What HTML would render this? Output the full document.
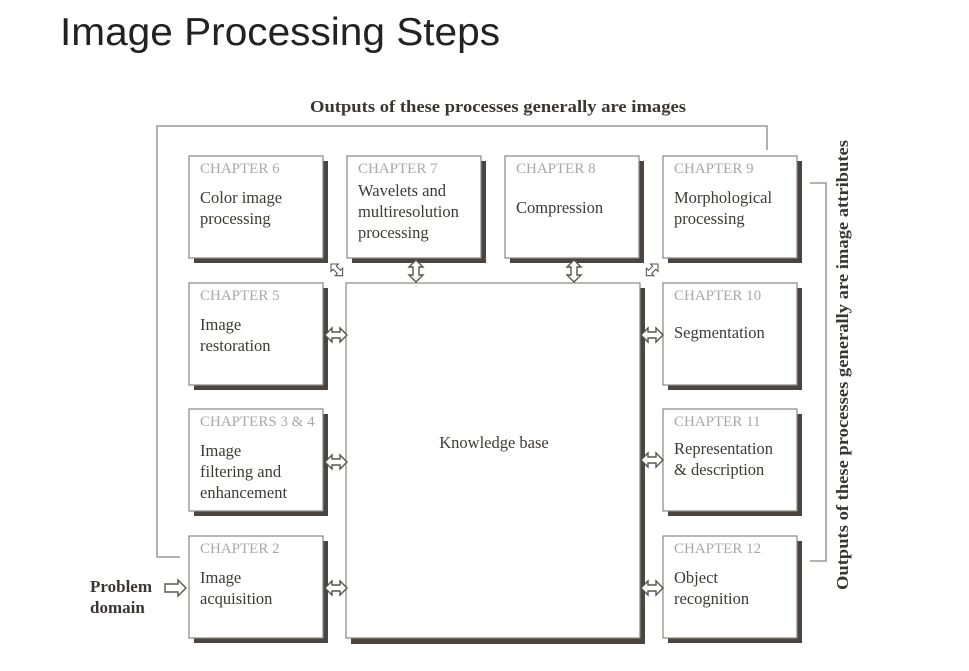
<!DOCTYPE html>
<html><head><meta charset="utf-8"><style>
html,body{margin:0;padding:0;background:#fff;}
svg{display:block;}
.t{font-family:"Liberation Serif",serif;}
.ch{fill:#a8a8a8;font-size:15px;}
.bd{fill:#3e3a36;font-size:16.5px;}
</style></head><body>
<svg width="969" height="671" viewBox="0 0 969 671" xmlns="http://www.w3.org/2000/svg">
<defs>
<polygon id="ha" points="0,0 7,-7 7,-3 15,-3 15,-7 22,0 15,7 15,3 7,3 7,7" fill="#fff" stroke="#5a5550" stroke-width="1.4"/>
</defs>
<text x="60" y="45" font-family="Liberation Sans, sans-serif" font-size="39" fill="#222" textLength="440" lengthAdjust="spacingAndGlyphs">Image Processing Steps</text>

<text class="t" x="498" y="112" font-size="17" font-weight="bold" fill="#3a3633" text-anchor="middle" textLength="376" lengthAdjust="spacingAndGlyphs">Outputs of these processes generally are images</text>
<text class="t" font-size="17" font-weight="bold" fill="#3a3633" text-anchor="middle" textLength="450" lengthAdjust="spacingAndGlyphs" transform="translate(848,365) rotate(-90)">Outputs of these processes generally are image attributes</text>

<g fill="none" stroke="#8a8580" stroke-width="1.3">
<polyline points="767,150 767,126 157,126 157,557 180,557"/>
<polyline points="810,183 826,183 826,561 810,561"/>
</g>

<g fill="#4a4540">
<rect x="194" y="161" width="134" height="102"/>
<rect x="352" y="161" width="134" height="102"/>
<rect x="510" y="161" width="134" height="102"/>
<rect x="668" y="161" width="134" height="102"/>
<rect x="194" y="288" width="134" height="102"/>
<rect x="194" y="414" width="134" height="102"/>
<rect x="194" y="541" width="134" height="102"/>
<rect x="668" y="288" width="134" height="102"/>
<rect x="668" y="414" width="134" height="102"/>
<rect x="668" y="541" width="134" height="102"/>
<rect x="351" y="288" width="294" height="356"/>
</g>
<g fill="#fff" stroke="#8a8580" stroke-width="1.2">
<rect x="189" y="156" width="134" height="102"/>
<rect x="347" y="156" width="134" height="102"/>
<rect x="505" y="156" width="134" height="102"/>
<rect x="663" y="156" width="134" height="102"/>
<rect x="189" y="283" width="134" height="102"/>
<rect x="189" y="409" width="134" height="102"/>
<rect x="189" y="536" width="134" height="102"/>
<rect x="663" y="283" width="134" height="102"/>
<rect x="663" y="409" width="134" height="102"/>
<rect x="663" y="536" width="134" height="102"/>
<rect x="346" y="283" width="294" height="355"/>
</g>

<g class="t">
<text class="ch" x="200" y="173">CHAPTER 6</text>
<text class="bd" x="200" y="203">Color image</text><text class="bd" x="200" y="224">processing</text>
<text class="ch" x="358" y="173">CHAPTER 7</text>
<text class="bd" x="358" y="196">Wavelets and</text><text class="bd" x="358" y="217">multiresolution</text><text class="bd" x="358" y="238">processing</text>
<text class="ch" x="516" y="173">CHAPTER 8</text>
<text class="bd" x="516" y="213">Compression</text>
<text class="ch" x="674" y="173">CHAPTER 9</text>
<text class="bd" x="674" y="203">Morphological</text><text class="bd" x="674" y="224">processing</text>
<text class="ch" x="200" y="300">CHAPTER 5</text>
<text class="bd" x="200" y="330">Image</text><text class="bd" x="200" y="351">restoration</text>
<text class="ch" x="200" y="426">CHAPTERS 3 &amp; 4</text>
<text class="bd" x="200" y="456">Image</text><text class="bd" x="200" y="477">filtering and</text><text class="bd" x="200" y="498">enhancement</text>
<text class="ch" x="200" y="553">CHAPTER 2</text>
<text class="bd" x="200" y="583">Image</text><text class="bd" x="200" y="604">acquisition</text>
<text class="ch" x="674" y="300">CHAPTER 10</text>
<text class="bd" x="674" y="338">Segmentation</text>
<text class="ch" x="674" y="426">CHAPTER 11</text>
<text class="bd" x="674" y="454">Representation</text><text class="bd" x="674" y="475">&amp; description</text>
<text class="ch" x="674" y="553">CHAPTER 12</text>
<text class="bd" x="674" y="583">Object</text><text class="bd" x="674" y="604">recognition</text>
<text class="bd" x="494" y="448" text-anchor="middle">Knowledge base</text>
<text x="90" y="592" font-size="17" font-weight="bold" fill="#3a3633">Problem</text>
<text x="90" y="613" font-size="17" font-weight="bold" fill="#3a3633">domain</text>
</g>

<polygon points="165,584 178,584 178,580 186,588 178,596 178,592 165,592" fill="#fff" stroke="#5a5550" stroke-width="1.4"/>

<use href="#ha" transform="translate(325,335)"/>
<use href="#ha" transform="translate(325,462)"/>
<use href="#ha" transform="translate(325,588)"/>
<use href="#ha" transform="translate(641,335)"/>
<use href="#ha" transform="translate(641,460)"/>
<use href="#ha" transform="translate(641,588)"/>
<use href="#ha" transform="translate(416,260) rotate(90)"/>
<use href="#ha" transform="translate(574,260) rotate(90)"/>
<use href="#ha" transform="translate(331,264) rotate(45) scale(0.75)"/>
<use href="#ha" transform="translate(658,264) rotate(135) scale(0.75)"/>
</svg>
</body></html>
